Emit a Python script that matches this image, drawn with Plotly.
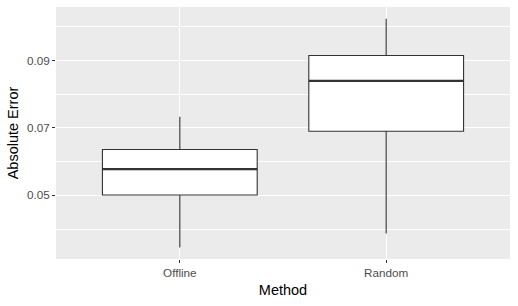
import plotly.graph_objects as go

methods = ["Offline", "Random"]
lower_whisker = [0.0345, 0.0387]
q1 = [0.0501, 0.0690]
median = [0.0578, 0.0840]
q3 = [0.0636, 0.0915]
upper_whisker = [0.0733, 0.1024]

fig = go.Figure()
fig.add_trace(go.Box(
    x=methods, q1=q1, median=median, q3=q3,
    lowerfence=lower_whisker, upperfence=upper_whisker,
    fillcolor="white", line=dict(color="#333333", width=1.1),
    whiskerwidth=0, width=0.75, boxpoints=False, showlegend=False,
    hoverinfo="skip",
))
# thicker median lines like ggplot
for idx, med in enumerate(median):
    fig.add_trace(go.Scatter(
        x=[idx - 0.375, idx + 0.375], y=[med, med], mode="lines",
        line=dict(color="#333333", width=2.2), showlegend=False,
        hoverinfo="skip", xaxis="x2",
    ))

axis_font = dict(family="Liberation Sans, Arial, sans-serif", size=11.7, color="#4D4D4D")
fig.update_layout(
    width=518, height=306,
    margin=dict(l=56, r=8, t=7, b=47),
    plot_bgcolor="#EBEBEB", paper_bgcolor="white",
    font=dict(family="Liberation Sans, Arial, sans-serif"),
    xaxis=dict(
        type="category", range=[-0.6, 1.6],
        showgrid=True, gridcolor="white", gridwidth=1.1,
        ticks="outside", ticklen=3, tickcolor="#333333", tickwidth=1.1,
        tickfont=axis_font, zeroline=False, showline=False,
        title=dict(text="Method", font=dict(size=14.5, color="black"), standoff=6),
    ),
    xaxis2=dict(overlaying="x", range=[-0.6, 1.6], visible=False),
    yaxis=dict(
        range=[0.0311, 0.1059],
        tickvals=[0.05, 0.07, 0.09], ticktext=["0.05", "0.07", "0.09"],
        showgrid=True, gridcolor="white", gridwidth=1.1,
        minor=dict(tickvals=[0.04, 0.06, 0.08, 0.10], showgrid=True, gridcolor="white", gridwidth=0.55, ticks=""),
        ticks="outside", ticklen=3, tickcolor="#333333", tickwidth=1.1,
        tickfont=axis_font, zeroline=False, showline=False,
        title=dict(text="Absolute Error", font=dict(size=14.5, color="black"), standoff=4),
    ),
)

fig.write_html("out.html")
